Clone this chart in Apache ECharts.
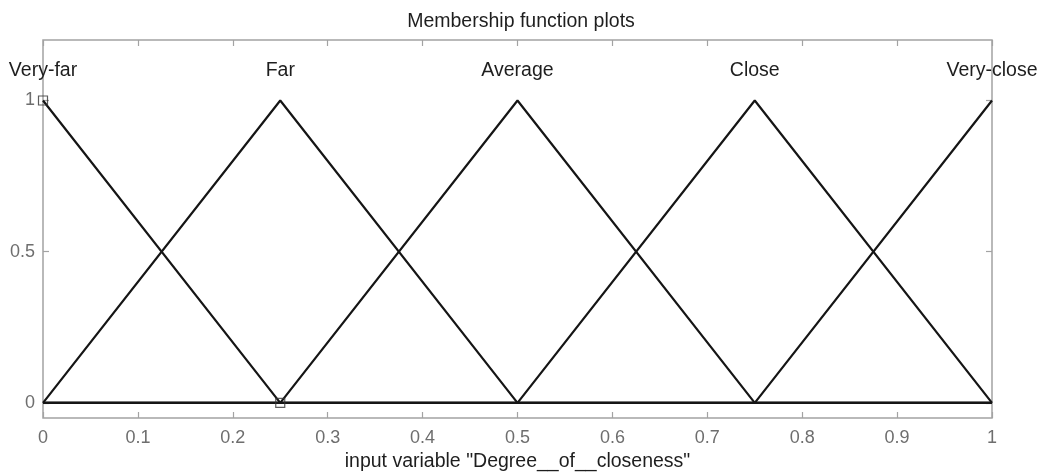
<!DOCTYPE html>
<html>
<head>
<meta charset="utf-8">
<script src="https://cdn.jsdelivr.net/npm/echarts@6/dist/echarts.min.js"></script>
<style>
  html, body { margin: 0; padding: 0; background: #fff; }
  #chart { width: 1042px; height: 475px; }
</style>
</head>
<body>
<div id="chart"></div>
<script>
// Membership functions of the input "Degree__of__closeness"
const mfNames = ['Very-far', 'Far', 'Average', 'Close', 'Very-close'];
const mfPeaks = [0, 0.25, 0.5, 0.75, 1];
// Each function as its polyline over [0, 1]
const veryFar   = [[0, 1], [0.25, 0], [1, 0]];
const far       = [[0, 0], [0.25, 1], [0.5, 0], [1, 0]];
const average   = [[0, 0], [0.25, 0], [0.5, 1], [0.75, 0], [1, 0]];
const close     = [[0, 0], [0.5, 0], [0.75, 1], [1, 0]];
const veryClose = [[0, 0], [0.75, 0], [1, 1]];
const mfCurves = [veryFar, far, average, close, veryClose];
// Highlighted handle points
const handles = [[0, 1], [0.25, 0]];
const xTicks = [0, 0.1, 0.2, 0.3, 0.4, 0.5, 0.6, 0.7, 0.8, 0.9, 1];
const yTicks = [0, 0.5, 1];
const labelLevel = 1.1;

const fontFamily = 'Liberation Sans, Arial, sans-serif';
const frameColor = '#a3a3a3';
const tickText = '#6e6e6e';
const textColor = '#1e1e1e';

const chart = echarts.init(document.getElementById('chart'));

const series = mfCurves.map((pts, i) => ({
  name: mfNames[i],
  type: 'line',
  data: pts,
  symbol: 'none',
  lineStyle: { color: '#151515', width: 2.2 },
  z: 3,
  animation: false
}));

series.push({
  type: 'scatter',
  data: handles,
  symbol: 'rect',
  symbolSize: 9,
  itemStyle: { color: 'rgba(255,255,255,0)', borderColor: '#333', borderWidth: 1.2 },
  z: 4,
  animation: false
});

// Function names above each peak
series.push({
  type: 'scatter',
  data: mfPeaks.map((p, i) => ({ value: [p, labelLevel], name: mfNames[i] })),
  symbolSize: 0,
  itemStyle: { color: textColor, opacity: 1 },
  label: {
    show: true,
    position: 'inside',
    formatter: p => p.name,
    color: textColor,
    opacity: 1,
    textBorderWidth: 0,
    fontSize: 19.5,
    fontFamily
  },
  emphasis: { disabled: true },
  z: 5,
  animation: false,
  silent: true
});

const tickStyle = { color: frameColor, width: 1.2 };

const option = {
  backgroundColor: '#fff',
  animation: false,
  title: {
    text: 'Membership function plots',
    left: 'center',
    top: 7,
    textStyle: { color: textColor, fontSize: 19.5, fontWeight: 'normal', fontFamily }
  },
  grid: {
    left: 43, right: 50, top: 40, bottom: 57,
    outerBoundsMode: 'none',
    containLabel: false,
    show: true, borderColor: frameColor, borderWidth: 1.5
  },
  xAxis: [{
    type: 'value',
    min: 0, max: 1, interval: 0.1,
    name: 'input variable "Degree__of__closeness"',
    nameLocation: 'middle',
    nameGap: 34,
    nameTextStyle: { color: textColor, fontSize: 19.5, fontFamily },
    axisLine: { show: false, onZero: false },
    axisTick: { show: true, inside: true, length: 6, lineStyle: tickStyle, customValues: xTicks },
    axisLabel: { color: tickText, fontSize: 18, fontFamily, margin: 11, customValues: xTicks, formatter: v => String(+v.toFixed(1)) },
    splitLine: { show: false }
  }, {
    type: 'value',
    position: 'top',
    min: 0, max: 1, interval: 0.1,
    axisLine: { show: false, onZero: false },
    axisTick: { show: true, inside: true, length: 6, lineStyle: tickStyle, customValues: xTicks },
    axisLabel: { show: false },
    splitLine: { show: false }
  }],
  yAxis: [{
    type: 'value',
    min: -0.05, max: 1.2,
    axisLine: { show: false, onZero: false },
    axisTick: { show: true, inside: true, length: 6, lineStyle: tickStyle, customValues: yTicks },
    axisLabel: { color: tickText, fontSize: 18, fontFamily, margin: 8, customValues: yTicks, formatter: v => String(v) },
    splitLine: { show: false }
  }, {
    type: 'value',
    position: 'right',
    min: -0.05, max: 1.2,
    axisLine: { show: false, onZero: false },
    axisTick: { show: true, inside: true, length: 6, lineStyle: tickStyle, customValues: yTicks },
    axisLabel: { show: false },
    splitLine: { show: false }
  }],
  series
};

chart.setOption(option);
</script>
</body>
</html>
